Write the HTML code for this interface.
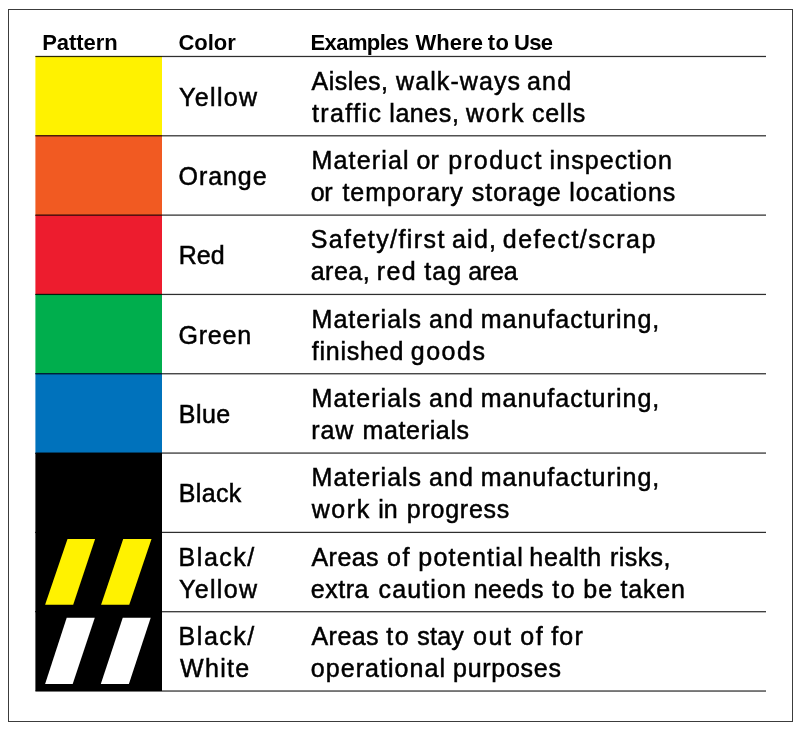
<!DOCTYPE html>
<html lang="en"><head><meta charset="utf-8"><title>Floor marking color guide</title>
<style>
html,body{margin:0;padding:0;background:#fff;}
body{width:800px;height:729px;position:relative;overflow:hidden;font-family:"Liberation Sans",sans-serif;color:#000;}
.frame{position:absolute;left:8px;top:9px;width:783px;height:711px;border:1px solid #3c3c3c;}
.sw{position:absolute;left:36px;width:126px;}
.ov{position:absolute;left:0;top:0;pointer-events:none;}
.t{position:absolute;left:0;white-space:nowrap;line-height:1;margin:0;}
.t span{position:absolute;top:0;}
.h{font-weight:bold;font-size:22px;height:22px;}
.b{font-size:25px;height:25px;-webkit-text-stroke:0.5px #000;}
</style></head><body>
<div class="frame"></div>
<div role="table" aria-label="Floor marking color guide">
<div role="row">
  <div class="t h" role="columnheader" style="top:32px"><span style="left:42.14px;letter-spacing:-0.05px">Pattern</span></div>
  <div class="t h" role="columnheader" style="top:32px"><span style="left:178.53px;letter-spacing:-0.05px">Color</span></div>
  <div class="t h" role="columnheader" style="top:32px"><span style="left:310.55px;letter-spacing:-0.60px">Examples</span> <span style="left:415.40px;letter-spacing:0.06px">Where</span> <span style="left:487.80px;letter-spacing:0.38px">to</span> <span style="left:513.94px;letter-spacing:-0.60px">Use</span></div>
</div>
<div role="row">
  <div role="cell" class="sw" aria-label="Yellow" style="top:56px;height:80px;background:#FFF200"></div>
  <div role="cell">
    <div class="t b" style="top:85px"><span style="left:178.93px;letter-spacing:1.38px">Yellow</span></div>
  </div>
  <div role="cell">
    <div class="t b" style="top:69px"><span style="left:311.48px;letter-spacing:0.49px">Aisles,</span> <span style="left:396.07px;letter-spacing:1.09px">walk-ways</span> <span style="left:527.00px;letter-spacing:1.16px">and</span></div>
    <div class="t b" style="top:101px"><span style="left:311.90px;letter-spacing:1.42px">traffic</span> <span style="left:389.24px;letter-spacing:0.59px">lanes,</span> <span style="left:466.07px;letter-spacing:1.59px">work</span> <span style="left:532.03px;letter-spacing:0.82px">cells</span></div>
  </div>
</div>
<div role="row">
  <div role="cell" class="sw" aria-label="Orange" style="top:135px;height:81px;background:#F15A22"></div>
  <div role="cell">
    <div class="t b" style="top:164px"><span style="left:178.53px;letter-spacing:0.93px">Orange</span></div>
  </div>
  <div role="cell">
    <div class="t b" style="top:148px"><span style="left:311.61px;letter-spacing:1.14px">Material</span> <span style="left:416.56px;letter-spacing:0.12px">or</span> <span style="left:448.36px;letter-spacing:1.60px">product</span> <span style="left:549.50px;letter-spacing:1.09px">inspection</span></div>
    <div class="t b" style="top:180px"><span style="left:310.81px;letter-spacing:-0.38px">or</span> <span style="left:342.40px;letter-spacing:0.99px">temporary</span> <span style="left:471.86px;letter-spacing:0.91px">storage</span> <span style="left:569.24px;letter-spacing:0.92px">locations</span></div>
  </div>
</div>
<div role="row">
  <div role="cell" class="sw" aria-label="Red" style="top:215px;height:80px;background:#ED1C2E"></div>
  <div role="cell">
    <div class="t b" style="top:243px"><span style="left:178.81px;letter-spacing:-0.01px">Red</span></div>
  </div>
  <div role="cell">
    <div class="t b" style="top:227px"><span style="left:310.65px;letter-spacing:1.43px">Safety/first</span> <span style="left:452.00px;letter-spacing:1.21px">aid,</span> <span style="left:502.81px;letter-spacing:1.49px">defect/scrap</span></div>
    <div class="t b" style="top:259px"><span style="left:310.75px;letter-spacing:0.46px">area,</span> <span style="left:376.74px;letter-spacing:1.45px">red</span> <span style="left:424.15px;letter-spacing:1.08px">tag</span> <span style="left:468.25px;letter-spacing:-0.23px">area</span></div>
  </div>
</div>
<div role="row">
  <div role="cell" class="sw" aria-label="Green" style="top:294px;height:80px;background:#00AE4D"></div>
  <div role="cell">
    <div class="t b" style="top:323px"><span style="left:178.50px;letter-spacing:0.78px">Green</span></div>
  </div>
  <div role="cell">
    <div class="t b" style="top:307px"><span style="left:311.61px;letter-spacing:1.01px">Materials</span> <span style="left:429.00px;letter-spacing:1.04px">and</span> <span style="left:480.64px;letter-spacing:1.02px">manufacturing,</span></div>
    <div class="t b" style="top:339px"><span style="left:311.66px;letter-spacing:0.78px">finished</span> <span style="left:410.82px;letter-spacing:1.49px">goods</span></div>
  </div>
</div>
<div role="row">
  <div role="cell" class="sw" aria-label="Blue" style="top:373px;height:81px;background:#0072BC"></div>
  <div role="cell">
    <div class="t b" style="top:402px"><span style="left:178.71px;letter-spacing:0.50px">Blue</span></div>
  </div>
  <div role="cell">
    <div class="t b" style="top:386px"><span style="left:311.61px;letter-spacing:1.01px">Materials</span> <span style="left:429.00px;letter-spacing:1.04px">and</span> <span style="left:480.64px;letter-spacing:1.02px">manufacturing,</span></div>
    <div class="t b" style="top:418px"><span style="left:311.24px;letter-spacing:0.93px">raw</span> <span style="left:362.49px;letter-spacing:0.65px">materials</span></div>
  </div>
</div>
<div role="row">
  <div role="cell" class="sw" aria-label="Black" style="top:453px;height:80px;background:#000"></div>
  <div role="cell">
    <div class="t b" style="top:481px"><span style="left:178.71px;letter-spacing:0.35px">Black</span></div>
  </div>
  <div role="cell">
    <div class="t b" style="top:465px"><span style="left:311.61px;letter-spacing:1.01px">Materials</span> <span style="left:429.00px;letter-spacing:1.04px">and</span> <span style="left:480.64px;letter-spacing:1.02px">manufacturing,</span></div>
    <div class="t b" style="top:497px"><span style="left:311.68px;letter-spacing:1.60px">work</span> <span style="left:378.25px;letter-spacing:0.03px">in</span> <span style="left:406.77px;letter-spacing:0.76px">progress</span></div>
  </div>
</div>
<div role="row">
  <div role="cell" class="sw" aria-label="Black with yellow stripes" style="top:532px;height:80px;background:#000"></div>
  <div role="cell">
    <div class="t b" style="top:545px"><span style="left:178.61px;letter-spacing:1.52px">Black/</span></div>
    <div class="t b" style="top:577px"><span style="left:178.93px;letter-spacing:1.36px">Yellow</span></div>
  </div>
  <div role="cell">
    <div class="t b" style="top:545px"><span style="left:311.48px;letter-spacing:0.46px">Areas</span> <span style="left:386.91px;letter-spacing:1.60px">of</span> <span style="left:418.27px;letter-spacing:1.24px">potential</span> <span style="left:529.20px;letter-spacing:0.79px">health</span> <span style="left:609.99px;letter-spacing:0.43px">risks,</span></div>
    <div class="t b" style="top:577px"><span style="left:310.78px;letter-spacing:0.52px">extra</span> <span style="left:378.53px;letter-spacing:1.13px">caution</span> <span style="left:473.74px;letter-spacing:0.39px">needs</span> <span style="left:552.30px;letter-spacing:1.60px">to</span> <span style="left:583.27px;letter-spacing:1.03px">be</span> <span style="left:620.40px;letter-spacing:0.87px">taken</span></div>
  </div>
</div>
<div role="row">
  <div role="cell" class="sw" aria-label="Black with white stripes" style="top:611px;height:80px;background:#000"></div>
  <div role="cell">
    <div class="t b" style="top:624px"><span style="left:178.61px;letter-spacing:1.52px">Black/</span></div>
    <div class="t b" style="top:656px"><span style="left:179.97px;letter-spacing:1.35px">White</span></div>
  </div>
  <div role="cell">
    <div class="t b" style="top:624px"><span style="left:311.48px;letter-spacing:0.46px">Areas</span> <span style="left:386.30px;letter-spacing:1.60px">to</span> <span style="left:417.36px;letter-spacing:0.17px">stay</span> <span style="left:472.99px;letter-spacing:1.60px">out</span> <span style="left:520.28px;letter-spacing:1.60px">of</span> <span style="left:551.16px;letter-spacing:1.21px">for</span></div>
    <div class="t b" style="top:656px"><span style="left:310.81px;letter-spacing:1.05px">operational</span> <span style="left:453.02px;letter-spacing:0.72px">purposes</span></div>
  </div>
</div>
</div>
<svg class="ov" width="800" height="729" viewBox="0 0 800 729" aria-hidden="true">
<rect x="35.4" y="56" width="1" height="80" fill="#FFF200"/>
<rect x="35.4" y="135" width="1" height="81" fill="#F15A22"/>
<rect x="35.4" y="215" width="1" height="80" fill="#ED1C2E"/>
<rect x="35.4" y="294" width="1" height="80" fill="#00AE4D"/>
<rect x="35.4" y="373" width="1" height="81" fill="#0072BC"/>
<rect x="35.4" y="453" width="1" height="80" fill="#000"/>
<rect x="35.4" y="532" width="1" height="80" fill="#000"/>
<rect x="35.4" y="611" width="1" height="80" fill="#000"/>
<polygon points="67.5,538.9 95.1,538.9 73.2,604.75 45.1,604.75" fill="#FFF200"/>
<polygon points="123.2,538.9 151.5,538.9 129.25,604.75 101.1,604.75" fill="#FFF200"/>
<polygon points="66.7,617.8 94.8,617.8 72.7,683.9 45.1,683.9" fill="#fff"/>
<polygon points="122.75,617.8 150.7,617.8 128.9,683.9 100.8,683.9" fill="#fff"/>
<rect x="35.4" y="55.85" width="730.6" height="1.25" fill="#000" fill-opacity="0.82"/>
<rect x="35.4" y="135.17" width="730.6" height="1.25" fill="#000" fill-opacity="0.82"/>
<rect x="35.4" y="214.49" width="730.6" height="1.25" fill="#000" fill-opacity="0.82"/>
<rect x="35.4" y="293.81" width="730.6" height="1.25" fill="#000" fill-opacity="0.82"/>
<rect x="35.4" y="373.13" width="730.6" height="1.25" fill="#000" fill-opacity="0.82"/>
<rect x="35.4" y="452.45" width="730.6" height="1.25" fill="#000" fill-opacity="0.82"/>
<rect x="35.4" y="531.77" width="730.6" height="1.25" fill="#000" fill-opacity="0.82"/>
<rect x="35.4" y="611.09" width="730.6" height="1.25" fill="#000" fill-opacity="0.82"/>
<rect x="35.4" y="690.41" width="730.6" height="1.25" fill="#000" fill-opacity="0.82"/>
</svg>
</body></html>
